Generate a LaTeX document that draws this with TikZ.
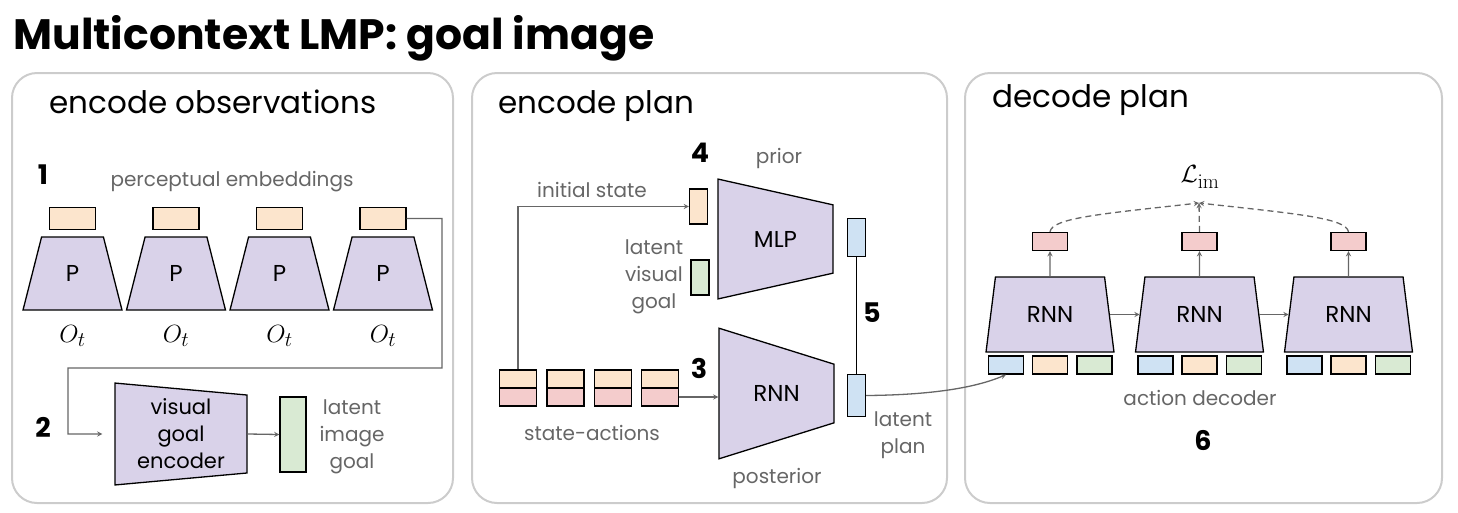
\documentclass[tikz,border=0pt]{standalone}
\usepackage[no-math]{fontspec}
\setmainfont{Poppins}
\usetikzlibrary{shapes.geometric}
\definecolor{peach}{HTML}{FCE5CD}
\definecolor{rose}{HTML}{F4CCCC}
\definecolor{mint}{HTML}{D9EAD3}
\definecolor{sky}{HTML}{CFE2F3}
\definecolor{lilac}{HTML}{D9D2E9}
\definecolor{txt}{HTML}{666666}
\definecolor{frame}{HTML}{CCCCCC}
\tikzset{bx/.style = {draw, line width=1.3pt, inner sep=0pt},
         em/.style = {bx, fill=peach, minimum width=46pt, minimum height=22pt},
         sa/.style = {bx, minimum width=37pt, minimum height=18pt},
         tb/.style = {bx, minimum width=18pt, minimum height=35pt},
         sm/.style = {bx, minimum width=35pt, minimum height=18pt},
         tz/.style = {trapezium, draw, fill=lilac, line width=1.3pt, inner sep=0pt,
                      trapezium stretches=true, font=\fontsize{23}{27}\selectfont},
         gl/.style = {text=txt, align=center, font=\fontsize{20}{27}\selectfont},
         nr/.style = {font=\bfseries\fontsize{27}{30}\selectfont},
         hd/.style = {anchor=base west, font=\fontsize{31}{36}\selectfont},
         ar/.style = {->, draw=txt, line width=1.3pt},
         da/.style = {->, draw=txt, line width=1.3pt, dash pattern=on 6pt off 4pt},
         pn/.style = {draw=frame, line width=2pt, rounded corners=25pt}}

\begin{document}
\begin{tikzpicture}[x=1pt, y=-1pt, >=stealth]
    \useasboundingbox (0,0) rectangle (1458,512);
    \node[anchor=base west, font=\bfseries\fontsize{42.5}{46}\selectfont] (title) at (10,49) {Multicontext LMP: goal image};
    % panels
    \draw[pn] (12,73) rectangle (453,503);
    \draw[pn] (472,73) rectangle (947,503);
    \draw[pn] (965,73) rectangle (1442,503);
    \node[hd] (h1) at (46,113) {encode observations};
    \node[hd] (h2) at (495,113) {encode plan};
    \node[hd] (h3) at (989,107) {decode plan};

    % encode observations
    \node[nr] (n1) at (43,175) {1};
    \node[gl] (pe) at (232,182) {perceptual embeddings};
    \node[em] (e1) at (72.5,218.5) {}; \node[em] (e2) at (176,218.5) {};
    \node[em] (e3) at (279.5,218.5) {}; \node[em] (e4) at (383,218.5) {};
    \node[tz, minimum width=99pt, minimum height=73pt, trapezium angle=76] (p1) at (72.5,273.5) {P};
    \node[tz, minimum width=99pt, minimum height=73pt, trapezium angle=76] (p2) at (176,273.5) {P};
    \node[tz, minimum width=99pt, minimum height=73pt, trapezium angle=76] (p3) at (279.5,273.5) {P};
    \node[tz, minimum width=99pt, minimum height=73pt, trapezium angle=76] (p4) at (383,273.5) {P};
    \node[font=\fontsize{30}{32}\selectfont] (o1) at (72.5,336) {$O_t$};
    \node[font=\fontsize{30}{32}\selectfont] (o2) at (176,336) {$O_t$};
    \node[font=\fontsize{30}{32}\selectfont] (o3) at (279.5,336) {$O_t$};
    \node[font=\fontsize{30}{32}\selectfont] (o4) at (383,336) {$O_t$};
    \node[nr] (n2) at (43,427) {2};
    \node[tz, shape border rotate=270, minimum width=102pt, minimum height=132pt,
          trapezium angle=83, align=center, font=\fontsize{21}{27}\selectfont] (enc) at (181,434) {visual\\goal\\encoder};
    \node[bx, fill=mint, minimum width=26pt, minimum height=75pt] (ig) at (293,434.5) {};
    \node[gl] (igl) at (352,437) {latent\\image\\goal};
    \draw[ar] (e4.east) -| (442,368) -| (68,434) -- ([xshift=-12pt]enc.west);
    \draw[ar] (enc.east) -- (ig.west);

    % encode plan
    \node[sa, fill=peach] (s1) at (518,379) {}; \node[sa, fill=rose] (a1) at (518,397) {};
    \node[sa, fill=peach] (s2) at (565.5,379) {}; \node[sa, fill=rose] (a2) at (565.5,397) {};
    \node[sa, fill=peach] (s3) at (613,379) {}; \node[sa, fill=rose] (a3) at (613,397) {};
    \node[sa, fill=peach] (s4) at (660,379) {}; \node[sa, fill=rose] (a4) at (660,397) {};
    \node[gl] (sal) at (592,433) {state-actions};
    \node[tb, fill=peach] (is) at (698.5,206.5) {};
    \node[tb, fill=mint] (vg) at (700,277.5) {};
    \node[gl] (isl) at (592,190) {initial state};
    \node[gl] (vgl) at (654,277) {latent\\visual\\goal};
    \node[tz, shape border rotate=270, minimum width=120pt, minimum height=115pt, trapezium angle=82] (mlp) at (775.5,239) {MLP};
    \node[tz, shape border rotate=270, minimum width=131pt, minimum height=115pt, trapezium angle=78] (rp) at (776.5,393.5) {RNN};
    \node[gl] (pri) at (779,158) {prior};
    \node[gl] (pos) at (777,478) {posterior};
    \node[nr] (n4) at (700,153) {4};
    \node[nr] (n3) at (699,368) {3};
    \node[tb, fill=sky, minimum height=38pt] (zp) at (856.5,237.5) {};
    \node[tb, fill=sky, minimum height=42pt] (zq) at (856.5,395.5) {};
    \node[nr] (n5) at (872,313) {5};
    \node[gl] (lpl) at (903,435) {latent\\plan};
    \draw[ar] (s1.north) |- (is.west);
    \draw[ar] (a4.east) -- (a4.east -| rp.west);
    \draw[line width=1.3pt] (zp.south) -- (zq.north);

    % decode plan
    \node[font=\fontsize{29}{32}\selectfont] (loss) at (1200,177) {$\mathcal{L}_{\mathrm{im}}$};
    \coordinate (lt) at (1199,203);
    \node[sm, fill=rose] (y1) at (1050,241.5) {};
    \node[sm, fill=rose] (y2) at (1199.5,241.5) {};
    \node[sm, fill=rose] (y3) at (1348.5,241.5) {};
    \node[tz, minimum width=128pt, minimum height=75pt, trapezium angle=76] (r1) at (1050,314.5) {RNN};
    \node[tz, minimum width=128pt, minimum height=75pt, trapezium angle=76] (r2) at (1199.5,314.5) {RNN};
    \node[tz, minimum width=128pt, minimum height=75pt, trapezium angle=76] (r3) at (1348.5,314.5) {RNN};
    \node[sm, fill=sky] (u1) at (1006,365) {};    \node[sm, fill=peach] (v1) at (1050,365) {};    \node[sm, fill=mint] (w1) at (1094.5,365) {};
    \node[sm, fill=sky] (u2) at (1155.5,365) {};  \node[sm, fill=peach] (v2) at (1199.5,365) {};  \node[sm, fill=mint] (w2) at (1244,365) {};
    \node[sm, fill=sky] (u3) at (1304.5,365) {};  \node[sm, fill=peach] (v3) at (1348.5,365) {};  \node[sm, fill=mint] (w3) at (1393,365) {};
    \node[gl] (adl) at (1200,398) {action decoder};
    \node[nr] (n6) at (1203,440) {6};
    \draw[ar] (r1.north) -- (y1.south);
    \draw[ar] (r2.north) -- (y2.south);
    \draw[ar] (r3.north) -- (y3.south);
    \draw[ar] (r1.east) -- (r2.west);
    \draw[ar] (r2.east) -- (r3.west);
    \draw[da] (y1.north) .. controls (1052,218) and (1100,214) .. (lt);
    \draw[da] (y2.north) -- (lt);
    \draw[da] (y3.north) .. controls (1346,218) and (1298,214) .. (lt);
    \draw[ar] (zq.east) .. controls (930,395) and (975,388) .. (u1.south);
\end{tikzpicture}
\end{document}
